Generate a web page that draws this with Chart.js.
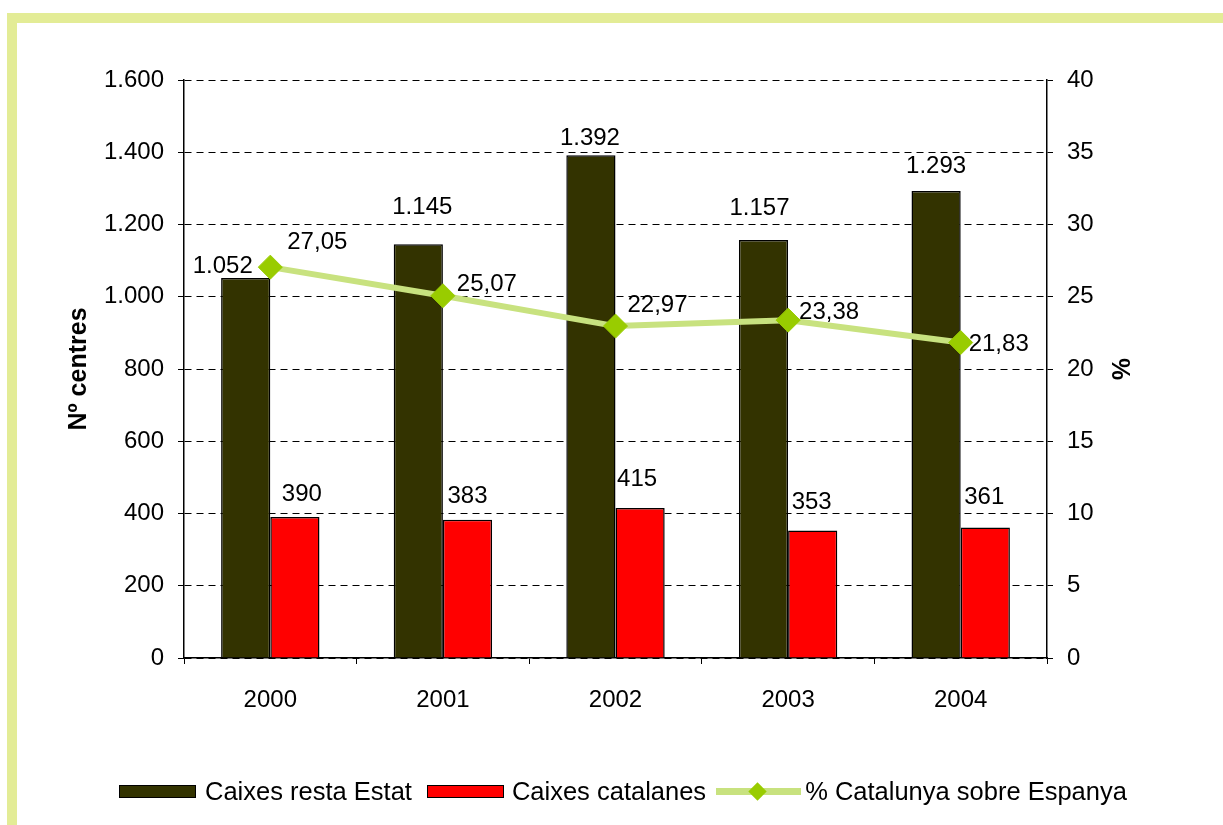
<!DOCTYPE html>
<html>
<head>
<meta charset="utf-8">
<script src="https://cdn.jsdelivr.net/npm/chart.js@4.4.1/dist/chart.umd.min.js"></script>
<style>
  html, body { margin: 0; padding: 0; background: #fff; overflow: hidden; }
  #wrap { position: relative; width: 1223px; height: 825px; }
  #frame {
    position: absolute; left: 7px; top: 13px; width: 1400px; height: 1000px;
    border-top: 10px solid #e3ec96; border-left: 10px solid #e3ec96;
  }
  canvas { position: absolute; left: 0; top: 0; }
  #legend {
    position: absolute; left: 119px; top: 776px; height: 30px;
    display: flex; align-items: center; white-space: nowrap;
    font-family: "Liberation Sans", Arial, sans-serif; font-size: 25.5px; color: #000;
  }
  .box { width: 75px; height: 11px; border: 1.5px solid #000; margin-right: 9px; }
  .ln { position: relative; width: 85px; height: 7px; background: #c8e27f; margin-right: 4px; }
  .ln i { position: absolute; left: 35px; top: -3px; width: 13px; height: 13px; background: #99cc00; transform: rotate(45deg); }
</style>
</head>
<body>
<div id="wrap">
  <div id="frame"></div>
  <canvas id="c" width="1223" height="825"></canvas>
  <div id="legend">
    <div class="box" style="background:#333300"></div><span style="margin-right:15px">Caixes resta Estat</span>
    <div class="box" style="background:#ff0000;margin-right:8px"></div><span style="margin-right:10px">Caixes catalanes</span>
    <div class="ln"><i></i></div><span>% Catalunya sobre Espanya</span>
  </div>
</div>
<script>
// data
const years = ['2000', '2001', '2002', '2003', '2004'];
const restaEstat = [1052, 1145, 1392, 1157, 1293];
const catalanes = [390, 383, 415, 353, 361];
const pctCatalunya = [27.05, 25.07, 22.97, 23.38, 21.83];

// label nudges (px) so the value labels sit where the original put them
const nudgeResta = [[-23, -12], [4, -37], [-1, -17], [-4, -32], [0, -25]];
const nudgeCat = [[7, -23], [0, -23], [-3, -29], [-1, -28], [-1, -30]];
const nudgePct = [[47, -25], [44, -11], [42, -21], [41, -8], [38, 2]];

const FONT = '"Liberation Sans", Arial, sans-serif';

function fmtThousands(v) {
    return String(Math.round(v)).replace(/\B(?=(\d{3})+(?!\d))/g, '.');
}
function fmtDecimal(v) {
    return v.toFixed(2).replace('.', ',');
}

const valueLabels = {
    id: 'valueLabels',
    afterDatasetsDraw(chart) {
        const ctx = chart.ctx;
        ctx.save();
        ctx.font = '24px ' + FONT;
        ctx.fillStyle = '#000';
        ctx.textAlign = 'center';
        ctx.textBaseline = 'middle';
        chart.data.datasets.forEach((ds, di) => {
            const meta = chart.getDatasetMeta(di);
            meta.data.forEach((el, i) => {
                const n = ds.nudge[i];
                ctx.fillText(ds.fmt(ds.data[i]), el.x + n[0], el.y + n[1]);
            });
        });
        ctx.restore();
    }
};

const tickFont = { family: FONT, size: 24 };
const titleFont = { family: FONT, size: 25, weight: 'bold' };

new Chart(document.getElementById('c'), {
    type: 'bar',
    data: {
        labels: years,
        datasets: [
            {
                type: 'line', label: '% Catalunya sobre Espanya', data: pctCatalunya,
                yAxisID: 'y1', order: 0,
                borderColor: '#c8e27f', borderWidth: 6,
                pointStyle: 'rectRot', pointRadius: 12, pointBackgroundColor: '#99cc00',
                pointBorderColor: '#99cc00', pointBorderWidth: 1,
                fmt: fmtDecimal, nudge: nudgePct
            },
            {
                label: 'Caixes resta Estat', data: restaEstat, yAxisID: 'y', order: 1,
                backgroundColor: '#333300', borderColor: '#000', borderWidth: 1.5,
                fmt: fmtThousands, nudge: nudgeResta
            },
            {
                label: 'Caixes catalanes', data: catalanes, yAxisID: 'y', order: 1,
                backgroundColor: '#ff0000', borderColor: '#000', borderWidth: 1.5,
                fmt: fmtThousands, nudge: nudgeCat
            }
        ]
    },
    options: {
        responsive: false,
        animation: false,
        layout: { padding: { left: 60, right: 85, top: 80, bottom: 107 } },
        datasets: { bar: { categoryPercentage: 0.57, barPercentage: 1 } },
        plugins: { legend: { display: false }, tooltip: { enabled: false } },
        scales: {
            x: {
                grid: { display: true, offset: true, drawOnChartArea: false, drawTicks: true,
                        tickLength: 6, color: '#000', tickColor: '#000' },
                border: { display: true, color: '#000', width: 1.5 },
                ticks: { font: tickFont, color: '#000', padding: 22 },
                afterFit(s) { s.height = 60; }
            },
            y: {
                position: 'left', min: 0, max: 1600,
                ticks: { stepSize: 200, font: tickFont, color: '#000', padding: 14,
                         callback: v => fmtThousands(v) },
                grid: { color: '#000', tickLength: 6, tickColor: '#000', tickBorderDash: [] },
                border: { display: true, color: '#000', width: 1.5, dash: [7, 5] },
                title: { display: true, text: 'Nº centres', font: titleFont, color: '#000' },
                afterFit(s) { s.width = 124; }
            },
            y1: {
                position: 'right', min: 0, max: 40,
                ticks: { stepSize: 5, font: tickFont, color: '#000', padding: 14 },
                grid: { drawOnChartArea: false, tickLength: 6, tickColor: '#000', color: '#000' },
                border: { display: true, color: '#000', width: 1.5 },
                title: { display: true, text: '%', font: titleFont, color: '#000' },
                afterFit(s) { s.width = 91; }
            }
        }
    },
    plugins: [valueLabels]
});
</script>
</body>
</html>
